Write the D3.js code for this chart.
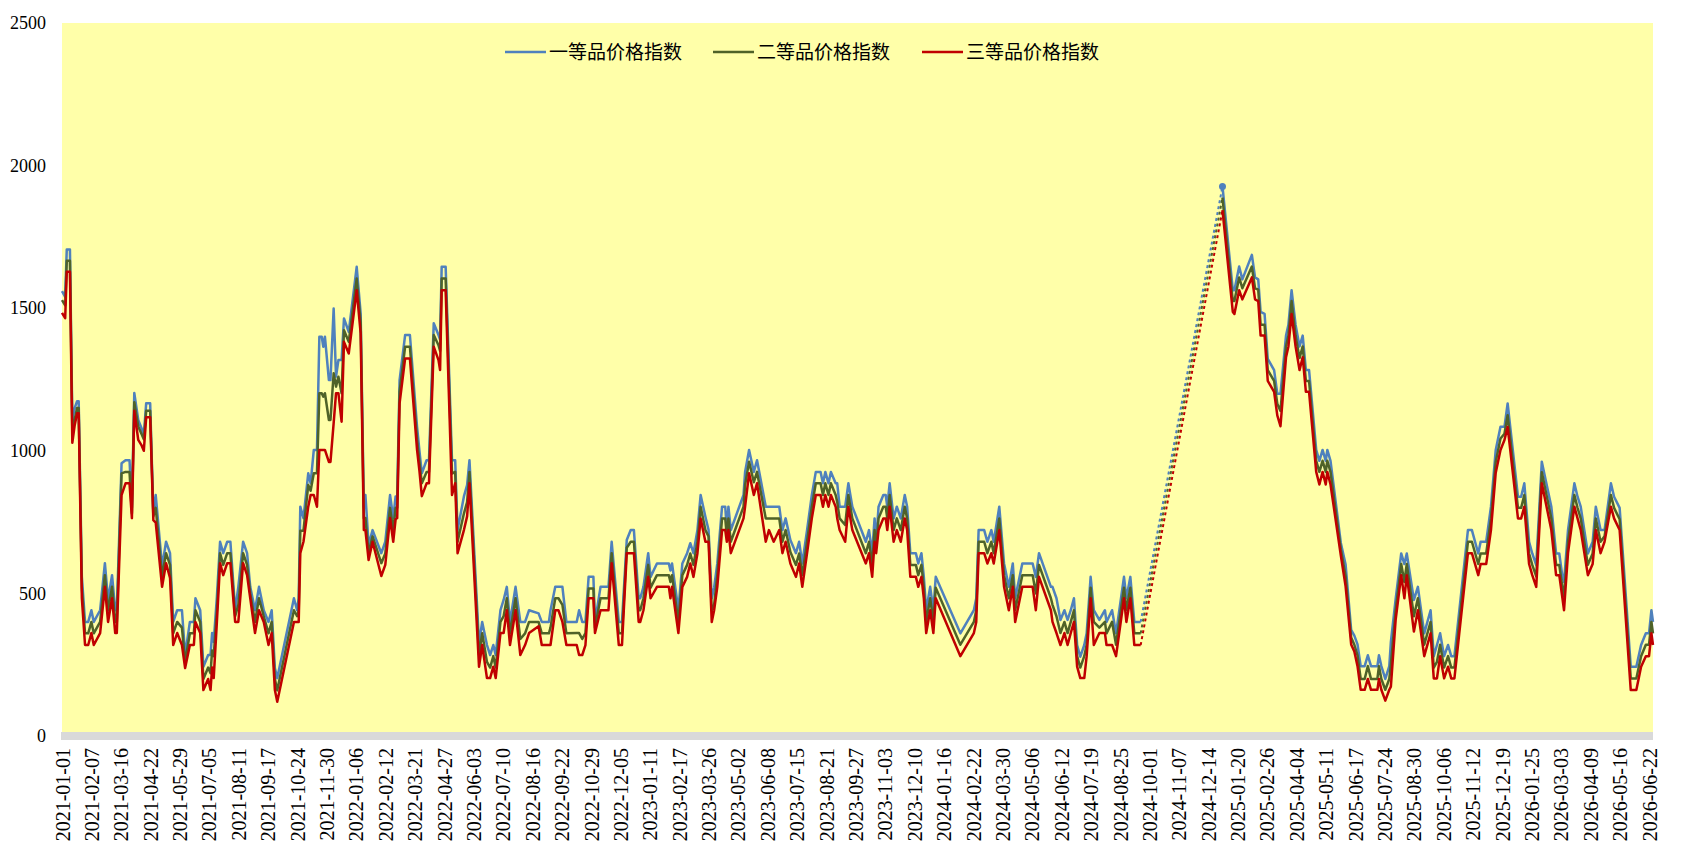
<!DOCTYPE html>
<html lang="zh">

<head>
    <meta charset="UTF-8">
    <title>价格指数</title>
    <script src="https://d3js.org/d3.v7.min.js"></script>
    <style>
        body {
            margin: 0;
            background: #fff;
        }
    </style>
</head>

<body>
    <script>
        // weekly price index readings, three grades
        const dates = [
            "2021-01-01", "2021-01-05", "2021-01-07", "2021-01-11", "2021-01-14", "2021-01-17", "2021-01-20", "2021-01-22", "2021-01-26", "2021-01-30",
            "2021-02-03", "2021-02-07", "2021-02-10", "2021-02-18", "2021-02-24", "2021-02-28", "2021-03-05", "2021-03-09", "2021-03-11", "2021-03-17",
            "2021-03-22", "2021-03-27", "2021-03-30", "2021-04-02", "2021-04-07", "2021-04-11", "2021-04-14", "2021-04-17", "2021-04-22", "2021-04-26",
            "2021-04-29", "2021-05-07", "2021-05-12", "2021-05-17", "2021-05-21", "2021-05-26", "2021-06-01", "2021-06-05", "2021-06-11", "2021-06-16",
            "2021-06-18", "2021-06-24", "2021-06-28", "2021-07-04", "2021-07-07", "2021-07-09", "2021-07-11", "2021-07-15", "2021-07-19", "2021-07-23",
            "2021-07-28", "2021-08-01", "2021-08-07", "2021-08-11", "2021-08-17", "2021-08-22", "2021-08-26", "2021-09-01", "2021-09-06", "2021-09-12",
            "2021-09-18", "2021-09-22", "2021-09-26", "2021-09-29", "2021-10-20", "2021-10-24", "2021-10-26", "2021-10-28", "2021-11-01", "2021-11-07",
            "2021-11-10", "2021-11-14", "2021-11-18", "2021-11-21", "2021-11-24", "2021-11-26", "2021-11-28", "2021-12-03", "2021-12-05", "2021-12-09",
            "2021-12-12", "2021-12-15", "2021-12-19", "2021-12-22", "2021-12-28", "2022-01-07", "2022-01-12", "2022-01-16", "2022-01-18", "2022-01-22",
            "2022-01-27", "2022-02-07", "2022-02-12", "2022-02-18", "2022-02-22", "2022-02-25", "2022-02-27", "2022-03-02", "2022-03-09", "2022-03-15",
            "2022-03-24", "2022-03-27", "2022-03-30", "2022-04-05", "2022-04-08", "2022-04-14", "2022-04-20", "2022-04-22", "2022-04-24", "2022-04-29",
            "2022-05-07", "2022-05-11", "2022-05-14", "2022-05-22", "2022-05-26", "2022-05-29", "2022-06-10", "2022-06-14", "2022-06-20", "2022-06-24",
            "2022-06-28", "2022-07-01", "2022-07-07", "2022-07-11", "2022-07-15", "2022-07-19", "2022-07-26", "2022-08-01", "2022-08-07", "2022-08-12",
            "2022-08-24", "2022-08-28", "2022-09-06", "2022-09-08", "2022-09-14", "2022-09-18", "2022-09-23", "2022-09-28", "2022-10-11", "2022-10-14",
            "2022-10-18", "2022-10-22", "2022-10-26", "2022-11-01", "2022-11-03", "2022-11-10", "2022-11-20", "2022-11-24", "2022-12-03", "2022-12-07",
            "2022-12-13", "2022-12-18", "2022-12-22", "2022-12-28", "2022-12-30", "2023-01-03", "2023-01-09", "2023-01-12", "2023-01-20", "2023-02-04",
            "2023-02-06", "2023-02-08", "2023-02-16", "2023-02-21", "2023-02-27", "2023-03-03", "2023-03-07", "2023-03-12", "2023-03-16", "2023-03-22",
            "2023-03-26", "2023-03-30", "2023-04-02", "2023-04-06", "2023-04-12", "2023-04-16", "2023-04-18", "2023-04-20", "2023-04-23", "2023-05-09",
            "2023-05-11", "2023-05-16", "2023-05-22", "2023-05-26", "2023-06-06", "2023-06-10", "2023-06-16", "2023-06-23", "2023-06-27", "2023-07-01",
            "2023-07-07", "2023-07-14", "2023-07-18", "2023-07-22", "2023-07-28", "2023-08-03", "2023-08-08", "2023-08-14", "2023-08-17", "2023-08-20",
            "2023-08-24", "2023-08-27", "2023-09-02", "2023-09-04", "2023-09-07", "2023-09-14", "2023-09-18", "2023-09-23", "2023-10-10", "2023-10-14",
            "2023-10-18", "2023-10-21", "2023-10-23", "2023-10-26", "2023-11-01", "2023-11-04", "2023-11-06", "2023-11-09", "2023-11-14", "2023-11-18",
            "2023-11-23", "2023-11-28", "2023-12-01", "2023-12-05", "2023-12-12", "2023-12-15", "2023-12-19", "2023-12-22", "2023-12-25", "2023-12-30",
            "2024-01-03", "2024-01-06", "2024-02-06", "2024-02-23", "2024-02-26", "2024-02-29", "2024-03-07", "2024-03-11", "2024-03-16", "2024-03-19",
            "2024-03-26", "2024-04-01", "2024-04-07", "2024-04-12", "2024-04-15", "2024-04-24", "2024-05-07", "2024-05-11", "2024-05-15", "2024-05-30",
            "2024-06-01", "2024-06-06", "2024-06-11", "2024-06-16", "2024-06-20", "2024-06-24", "2024-06-28", "2024-07-02", "2024-07-06", "2024-07-11",
            "2024-07-14", "2024-07-19", "2024-07-23", "2024-07-30", "2024-08-06", "2024-08-08", "2024-08-15", "2024-08-20", "2024-08-30", "2024-09-02",
            "2024-09-07", "2024-09-12", "2024-09-20", "2025-01-01", "2025-01-14", "2025-01-16", "2025-01-22", "2025-01-26", "2025-02-07", "2025-02-11",
            "2025-02-15", "2025-02-18", "2025-02-23", "2025-02-27", "2025-03-07", "2025-03-11", "2025-03-15", "2025-03-22", "2025-03-25", "2025-03-29",
            "2025-04-03", "2025-04-08", "2025-04-12", "2025-04-16", "2025-04-20", "2025-04-29", "2025-05-03", "2025-05-07", "2025-05-11", "2025-05-13",
            "2025-05-17", "2025-05-30", "2025-06-05", "2025-06-12", "2025-06-16", "2025-06-20", "2025-06-24", "2025-06-29", "2025-07-03", "2025-07-07",
            "2025-07-15", "2025-07-17", "2025-07-20", "2025-07-25", "2025-07-30", "2025-08-01", "2025-08-07", "2025-08-14", "2025-08-18", "2025-08-21",
            "2025-08-30", "2025-09-04", "2025-09-12", "2025-09-20", "2025-09-24", "2025-09-28", "2025-10-02", "2025-10-07", "2025-10-12", "2025-10-16",
            "2025-10-20", "2025-11-06", "2025-11-11", "2025-11-19", "2025-11-22", "2025-11-29", "2025-12-05", "2025-12-11", "2025-12-17", "2025-12-22",
            "2025-12-26", "2026-01-08", "2026-01-12", "2026-01-16", "2026-01-22", "2026-01-26", "2026-01-31", "2026-02-07", "2026-02-19", "2026-02-25",
            "2026-03-01", "2026-03-05", "2026-03-07", "2026-03-12", "2026-03-20", "2026-03-24", "2026-03-28", "2026-04-06", "2026-04-12", "2026-04-16",
            "2026-04-22", "2026-04-27", "2026-05-05", "2026-05-09", "2026-05-16", "2026-05-30", "2026-06-06", "2026-06-12", "2026-06-18", "2026-06-22",
            "2026-06-25", "2026-06-27"
        ];

        const grade1 = [
            1560, 1540, 1706, 1706, 1108, 1150, 1174, 1174, 558, 400,
            400, 441, 400, 441, 606, 477, 564, 441, 441, 956,
            967, 967, 800, 1203, 1108, 1080, 1055, 1167, 1167, 781,
            845, 594, 681, 641, 400, 441, 441, 284, 400, 400,
            483, 441, 243, 284, 284, 361, 330, 488, 681, 641,
            681, 681, 441, 523, 681, 641, 523, 441, 523, 441,
            400, 441, 238, 203, 483, 441, 483, 804, 764, 921,
            886, 1003, 1003, 1400, 1400, 1365, 1400, 1248, 1248, 1499,
            1260, 1318, 1318, 1464, 1417, 1645, 1482, 804, 845, 670,
            722, 641, 681, 845, 764, 840, 840, 1248, 1406, 1406,
            1084, 1000, 921, 967, 967, 1447, 1406, 1390, 1645, 1645,
            967, 967, 722, 840, 880, 967, 325, 400, 319, 284,
            319, 284, 441, 477, 523, 400, 523, 400, 400, 441,
            430, 400, 400, 441, 523, 523, 523, 400, 400, 441,
            400, 400, 558, 558, 400, 523, 523, 681, 400, 400,
            687, 722, 722, 483, 483, 523, 641, 558, 605, 605,
            580, 605, 441, 605, 641, 676, 641, 722, 845, 769,
            722, 483, 520, 605, 804, 804, 722, 804, 722, 845,
            926, 1003, 926, 967, 804, 804, 804, 804, 722, 763,
            687, 641, 681, 605, 722, 845, 926, 926, 886, 926,
            886, 926, 886, 886, 804, 804, 886, 804, 681, 722,
            641, 763, 681, 804, 845, 845, 804, 886, 763, 804,
            763, 845, 804, 641, 641, 605, 641, 558, 441, 523,
            441, 558, 360, 441, 483, 722, 722, 681, 722, 681,
            804, 605, 523, 605, 483, 605, 605, 558, 641, 523,
            523, 483, 407, 441, 407, 441, 483, 319, 278, 319,
            360, 558, 441, 407, 441, 400, 441, 360, 558, 483,
            558, 400, 400, 1927, 1563, 1563, 1646, 1601, 1687, 1608,
            1601, 1487, 1480, 1322, 1283, 1200, 1200, 1404, 1442, 1563,
            1442, 1366, 1404, 1283, 1283, 1003, 965, 1003, 965, 1003,
            965, 677, 601, 372, 352, 321, 245, 245, 283, 245,
            245, 283, 245, 200, 245, 330, 480, 640, 603, 640,
            477, 523, 360, 441, 280, 319, 360, 280, 319, 280,
            280, 722, 722, 640, 681, 681, 804, 1003, 1084, 1084,
            1166, 839, 839, 886, 681, 640, 599, 962, 804, 640,
            640, 558, 540, 722, 886, 839, 804, 640, 681, 804,
            722, 722, 886, 839, 800, 243, 243, 319, 360, 360,
            441, 400
        ];

        const grade2 = [
            1528, 1510, 1666, 1666, 1070, 1110, 1150, 1150, 520, 360,
            360, 400, 360, 400, 564, 440, 523, 400, 400, 921,
            926, 926, 780, 1170, 1085, 1060, 1040, 1140, 1140, 770,
            800, 560, 641, 600, 360, 400, 380, 260, 360, 360,
            441, 400, 200, 240, 220, 300, 280, 441, 641, 600,
            641, 641, 420, 460, 641, 600, 500, 400, 483, 420,
            360, 400, 200, 160, 441, 420, 441, 720, 720, 880,
            860, 921, 921, 1202, 1202, 1190, 1202, 1108, 1108, 1272,
            1225, 1260, 1202, 1423, 1382, 1604, 1450, 764, 764, 641,
            700, 606, 640, 800, 720, 800, 800, 1207, 1365, 1365,
            1040, 960, 886, 926, 926, 1406, 1370, 1350, 1604, 1604,
            920, 926, 681, 780, 820, 926, 285, 360, 260, 240,
            280, 240, 400, 420, 483, 360, 483, 340, 360, 400,
            400, 360, 360, 380, 483, 483, 460, 360, 361, 361,
            340, 361, 517, 517, 380, 483, 483, 641, 360, 360,
            660, 681, 681, 441, 441, 483, 600, 520, 564, 564,
            540, 564, 400, 564, 600, 640, 600, 681, 804, 722,
            700, 441, 460, 564, 763, 763, 700, 763, 681, 804,
            880, 962, 890, 926, 763, 763, 763, 763, 681, 722,
            645, 600, 640, 564, 681, 804, 886, 886, 845, 886,
            845, 886, 845, 820, 763, 740, 845, 763, 641, 681,
            600, 722, 660, 763, 804, 804, 763, 845, 722, 763,
            722, 804, 763, 600, 600, 564, 600, 520, 400, 483,
            400, 520, 320, 400, 441, 681, 681, 641, 681, 641,
            763, 564, 483, 564, 441, 564, 564, 500, 600, 483,
            460, 420, 361, 400, 361, 400, 441, 280, 240, 280,
            320, 520, 400, 380, 400, 360, 400, 320, 520, 441,
            520, 360, 360, 1888, 1525, 1525, 1608, 1570, 1646, 1570,
            1565, 1442, 1442, 1283, 1245, 1165, 1140, 1366, 1404, 1525,
            1404, 1325, 1366, 1245, 1245, 965, 926, 965, 926, 965,
            926, 655, 560, 345, 320, 283, 200, 200, 245, 200,
            200, 245, 200, 162, 200, 250, 440, 603, 540, 603,
            420, 483, 320, 400, 240, 260, 320, 240, 280, 240,
            240, 681, 681, 603, 640, 640, 763, 962, 1043, 1060,
            1125, 800, 800, 845, 640, 600, 560, 925, 763, 600,
            600, 520, 490, 681, 845, 800, 763, 600, 640, 763,
            681, 700, 845, 800, 760, 202, 202, 280, 320, 320,
            400, 360
        ];

        const grade3 = [
            1484, 1465, 1628, 1628, 1028, 1090, 1132, 1132, 483, 319,
            319, 361, 319, 361, 523, 400, 483, 361, 361, 845,
            886, 886, 764, 1140, 1038, 1020, 1000, 1118, 1118, 757,
            748, 523, 606, 554, 319, 361, 319, 238, 319, 319,
            400, 361, 161, 200, 161, 240, 203, 400, 606, 564,
            606, 606, 400, 400, 606, 564, 483, 361, 441, 400,
            319, 361, 161, 120, 400, 400, 400, 641, 681, 804,
            845, 845, 804, 1003, 1003, 1003, 1003, 961, 961, 1097,
            1202, 1202, 1102, 1382, 1341, 1563, 1412, 722, 722, 617,
            681, 561, 600, 764, 681, 760, 764, 1166, 1324, 1324,
            1003, 930, 841, 886, 886, 1365, 1318, 1283, 1563, 1563,
            845, 886, 641, 722, 770, 886, 243, 319, 203, 203,
            243, 203, 361, 361, 441, 319, 441, 284, 319, 361,
            385, 319, 319, 319, 441, 441, 400, 319, 319, 284,
            284, 319, 483, 483, 361, 441, 441, 606, 319, 319,
            641, 641, 641, 400, 400, 441, 558, 483, 523, 523,
            483, 523, 361, 523, 558, 605, 558, 641, 763, 681,
            681, 400, 441, 523, 722, 722, 681, 722, 641, 763,
            804, 921, 845, 886, 681, 722, 681, 722, 641, 681,
            605, 558, 605, 523, 641, 763, 845, 845, 804, 845,
            804, 845, 804, 763, 722, 681, 804, 722, 605, 641,
            558, 681, 641, 722, 763, 763, 722, 804, 681, 722,
            681, 763, 722, 558, 558, 523, 558, 483, 361, 441,
            361, 483, 280, 361, 400, 641, 641, 605, 641, 605,
            722, 523, 441, 523, 400, 523, 523, 441, 558, 441,
            400, 361, 319, 361, 319, 361, 400, 243, 203, 203,
            280, 483, 319, 361, 361, 319, 319, 280, 483, 400,
            483, 319, 319, 1844, 1487, 1480, 1563, 1531, 1608, 1531,
            1525, 1404, 1404, 1245, 1207, 1124, 1086, 1328, 1366, 1480,
            1366, 1283, 1328, 1207, 1207, 926, 882, 926, 882, 926,
            882, 633, 525, 321, 296, 245, 162, 162, 200, 162,
            162, 200, 162, 124, 162, 173, 407, 564, 483, 564,
            366, 441, 280, 360, 202, 202, 280, 202, 243, 202,
            202, 641, 641, 564, 603, 603, 722, 923, 1003, 1038,
            1084, 763, 763, 804, 603, 564, 523, 886, 722, 564,
            564, 483, 441, 641, 804, 763, 722, 564, 603, 722,
            641, 681, 804, 763, 722, 161, 161, 243, 280, 280,
            360, 319
        ];

        const seriesNames = ["一等品价格指数", "二等品价格指数", "三等品价格指数"];
        const seriesColors = ["#4F81BD", "#4F6228", "#C00000"];
        const yTicks = [0, 500, 1000, 1500, 2000, 2500];
        const xTickLabels = [
            "2021-01-01", "2021-02-07", "2021-03-16", "2021-04-22", "2021-05-29", "2021-07-05", "2021-08-11", "2021-09-17",
            "2021-10-24", "2021-11-30", "2022-01-06", "2022-02-12", "2022-03-21", "2022-04-27", "2022-06-03", "2022-07-10",
            "2022-08-16", "2022-09-22", "2022-10-29", "2022-12-05", "2023-01-11", "2023-02-17", "2023-03-26", "2023-05-02",
            "2023-06-08", "2023-07-15", "2023-08-21", "2023-09-27", "2023-11-03", "2023-12-10", "2024-01-16", "2024-02-22",
            "2024-03-30", "2024-05-06", "2024-06-12", "2024-07-19", "2024-08-25", "2024-10-01", "2024-11-07", "2024-12-14",
            "2025-01-20", "2025-02-26", "2025-04-04", "2025-05-11", "2025-06-17", "2025-07-24", "2025-08-30", "2025-10-06",
            "2025-11-12", "2025-12-19", "2026-01-25", "2026-03-03", "2026-04-09", "2026-05-16", "2026-06-22"
        ];

        var parse = d3.timeParse("%Y-%m-%d");
        var fmt = d3.timeFormat("%Y-%m-%d");
        var W = 1691, H = 863;
        var plotL = 62, plotR = 1653, plotT = 23, plotB = 736;

        var svg = d3.select("body").append("svg")
            .attr("width", W)
            .attr("height", H);

        var x = d3.scaleTime()
            .domain([parse(dates[0]), parse(dates[dates.length - 1])])
            .range([plotL, plotR]);
        var y = d3.scaleLinear().domain([0, 2500]).range([plotB, plotT]);

        // plot background + grey floor band
        svg.append("rect")
            .attr("x", plotL).attr("y", plotT)
            .attr("width", plotR - plotL).attr("height", plotB - plotT)
            .attr("fill", "#FFFFA9");
        svg.append("rect")
            .attr("x", plotL - 1).attr("y", y(0) - 4)
            .attr("width", plotR - plotL + 1).attr("height", 8)
            .attr("fill", "#D9D9D9");

        var yAxis = svg.append("g")
            .attr("transform", "translate(" + plotL + ",0)")
            .call(d3.axisLeft(y).tickValues(yTicks).tickFormat(d3.format("d")).tickSize(0).tickPadding(16));
        yAxis.select(".domain").remove();
        yAxis.attr("font-family", "'Liberation Serif', serif").attr("font-size", 18);
        yAxis.selectAll("text").attr("fill", "#000");

        var xAxis = svg.append("g")
            .attr("transform", "translate(0," + (y(0) + 4) + ")")
            .call(d3.axisBottom(x).tickValues(xTickLabels.map(parse)).tickFormat(fmt).tickSize(0));
        xAxis.select(".domain").remove();
        xAxis.attr("font-family", "'Liberation Serif', serif").attr("font-size", 20);
        xAxis.selectAll("text")
            .attr("fill", "#000")
            .attr("transform", "rotate(-90)")
            .attr("x", -8)
            .attr("y", 0)
            .attr("dy", "0.35em")
            .style("text-anchor", "end");

        var line = d3.line()
            .x(function (d) { return x(d.date); })
            .y(function (d) { return y(d.v); });

        var allSeries = [grade1, grade2, grade3];
        allSeries.forEach(function (vals, k) {
            var pts = dates.map(function (d, i) { return { date: parse(d), v: vals[i] }; });
            // split where reporting stopped (gap > 60 days), bridge it with a dotted line
            var segs = [[pts[0]]];
            var bridges = [];
            for (var i = 1; i < pts.length; i++) {
                if (pts[i].date - pts[i - 1].date > 60 * 864e5) {
                    bridges.push([pts[i - 1], pts[i]]);
                    segs.push([]);
                }
                segs[segs.length - 1].push(pts[i]);
            }
            bridges.forEach(function (b) {
                svg.append("path")
                    .attr("d", line(b))
                    .attr("fill", "none")
                    .attr("stroke", seriesColors[k])
                    .attr("stroke-width", 2)
                    .attr("stroke-dasharray", "3,3");
            });
            segs.forEach(function (s) {
                svg.append("path")
                    .attr("d", line(s))
                    .attr("fill", "none")
                    .attr("stroke", seriesColors[k])
                    .attr("stroke-width", 2.5)
                    .attr("stroke-linejoin", "round");
            });
        });

        // marker on the first reading after the gap (grade 1)
        var peakIdx = dates.indexOf("2025-01-01");
        svg.append("circle")
            .attr("cx", x(parse(dates[peakIdx])))
            .attr("cy", y(grade1[peakIdx]))
            .attr("r", 3.5)
            .attr("fill", seriesColors[0]);

        // legend
        var legendX = [505, 713, 922];
        var legend = svg.append("g").attr("class", "legend");
        seriesNames.forEach(function (name, k) {
            legend.append("line")
                .attr("x1", legendX[k]).attr("x2", legendX[k] + 41)
                .attr("y1", 52).attr("y2", 52)
                .attr("stroke", seriesColors[k])
                .attr("stroke-width", 2.5);
            legend.append("text")
                .attr("x", legendX[k] + 44)
                .attr("y", 52)
                .attr("dy", "0.36em")
                .attr("font-family", "'Noto Sans CJK SC', sans-serif")
                .attr("font-size", 19)
                .attr("fill", "#000")
                .text(name);
        });
    </script>
</body>

</html>
